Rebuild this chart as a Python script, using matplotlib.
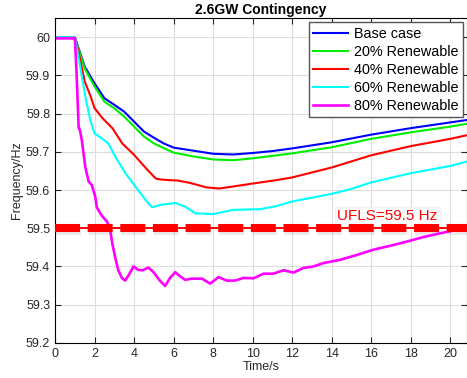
import numpy as np
import matplotlib.pyplot as plt
import matplotlib.patheffects as pe

plt.rcParams['font.family'] = ['Liberation Sans', 'DejaVu Sans']
plt.rcParams['lines.scale_dashes'] = False

# values
t_base = [0, 1, 1.5, 2, 2.5, 3, 3.5, 4, 4.5, 5, 5.5, 6, 7, 8, 9, 10, 11, 12, 13, 14, 16, 18, 20, 20.8]
f_base = [60, 60, 59.923, 59.879, 59.84, 59.823, 59.805, 59.779, 59.753, 59.737, 59.722, 59.711,
          59.703, 59.695, 59.693, 59.697, 59.702, 59.709, 59.717, 59.725, 59.745, 59.762, 59.777, 59.783]

t_r20 = [0, 1, 1.5, 2, 2.5, 3, 3.5, 4, 4.5, 5, 5.7, 6, 7, 8, 9, 10, 12, 14, 16, 18, 20, 20.8]
f_r20 = [60, 60, 59.918, 59.871, 59.831, 59.814, 59.792, 59.766, 59.74, 59.722, 59.705, 59.698,
         59.688, 59.68, 59.678, 59.683, 59.696, 59.712, 59.734, 59.751, 59.766, 59.773]

t_r40 = [0, 1, 1.2, 1.5, 1.8, 2, 2.4, 2.9, 3.4, 4, 4.6, 5.1, 5.3, 5.75, 6.2, 6.8, 7.66, 8.3, 9.1,
         10, 11.2, 12, 14, 15, 16, 18, 20, 20.8]
f_r40 = [60, 60, 59.958, 59.884, 59.845, 59.814, 59.788, 59.762, 59.722, 59.692, 59.657, 59.63,
         59.628, 59.626, 59.625, 59.619, 59.607, 59.604, 59.61, 59.617, 59.626, 59.633, 59.659,
         59.675, 59.691, 59.715, 59.734, 59.743]

t_r60 = [0, 1, 1.27, 1.53, 1.78, 2, 2.37, 2.7, 3.05, 3.56, 4.07, 4.58, 4.9, 5.4, 6.1, 6.6, 7.1,
         8, 9, 10.4, 11.2, 12, 14, 15, 16, 18, 20, 20.8]
f_r60 = [60, 60, 59.923, 59.845, 59.783, 59.748, 59.735, 59.722, 59.687, 59.644, 59.609, 59.574,
         59.555, 59.562, 59.566, 59.556, 59.539, 59.537, 59.548, 59.55, 59.558, 59.57, 59.59,
         59.603, 59.62, 59.644, 59.663, 59.674]

t_r80 = [0, 1, 1.08, 1.19, 1.27, 1.35, 1.53, 1.7, 1.86, 2.03, 2.11, 2.36, 2.62, 2.78, 2.9, 3.04,
         3.2, 3.38, 3.54, 3.71, 3.97, 4.2, 4.42, 4.73, 4.98, 5.3, 5.57, 5.82, 6.08, 6.33, 6.58,
         6.92, 7.43, 7.85, 8.27, 8.69, 9.11, 9.54, 10.04, 10.55, 11.05, 11.56, 12.07, 12.57,
         13.08, 13.59, 14.4, 15.27, 16.12, 16.96, 17.8, 18.65, 19.5, 20.17, 20.84]
f_r80 = [59.997, 59.997, 59.914, 59.766, 59.753, 59.731, 59.66, 59.622, 59.613, 59.583, 59.555,
         59.533, 59.518, 59.498, 59.459, 59.424, 59.39, 59.37, 59.363, 59.376, 59.4, 59.391,
         59.39, 59.397, 59.385, 59.363, 59.349, 59.37, 59.385, 59.374, 59.365, 59.368, 59.368,
         59.355, 59.372, 59.363, 59.363, 59.37, 59.369, 59.381, 59.381, 59.39, 59.384, 59.396,
         59.4, 59.409, 59.417, 59.43, 59.444, 59.454, 59.465, 59.477, 59.487, 59.494, 59.5]

labels = ['Base case', '20% Renewable', '40% Renewable', '60% Renewable', '80% Renewable']
colors = ['#0000ff', '#00ee00', '#ff0000', '#00ffff', '#ff00ff']
ufls = 59.5

fig = plt.figure(figsize=(4.67, 3.78), dpi=100)
ax = fig.add_axes([0.118, 0.093, 0.882, 0.859])

series = [(t_base, f_base), (t_r20, f_r20), (t_r40, f_r40), (t_r60, f_r60), (t_r80, f_r80)]
for (t, f), c, lab in zip(series, colors, labels):
    lw = 1.9 if lab == '80% Renewable' else 1.5
    ax.plot(t, f, color=c, linewidth=lw, label=lab)

# UFLS threshold: thin line + thick dashes with a soft shadow
ax.axhline(ufls, color='#ff0000', linewidth=1.4, zorder=5)
ax.axhline(ufls, color='#ff0000', linewidth=5.8, linestyle=(0, (18, 5.5)),
           solid_capstyle='butt', dash_capstyle='butt', zorder=5,
           path_effects=[pe.SimpleLineShadow(offset=(0.5, -1.8), shadow_color='#777777', alpha=0.15),
                         pe.Normal()])
ax.text(14.28, 59.531, 'UFLS=59.5 Hz', color='#ff0000', fontsize=11, va='center',
        bbox=dict(facecolor='white', edgecolor='#eeeeee', pad=1.5, alpha=0.8))

ax.set_xlim(0, 20.85)
ax.set_ylim(59.2, 60.05)
ax.set_xticks(np.arange(0, 21, 2))
ax.set_yticks([59.2, 59.3, 59.4, 59.5, 59.6, 59.7, 59.8, 59.9, 60])
ax.set_yticklabels(['59.2', '59.3', '59.4', '59.5', '59.6', '59.7', '59.8', '59.9', '60'])
ax.tick_params(direction='in', top=True, right=True, labelsize=9, colors='#262626',
               labelcolor='#262626', length=4)
ax.grid(True, color='#dddddd', linewidth=0.8)
ax.set_axisbelow(True)
ax.set_xlabel('Time/s', fontsize=9, color='#262626', labelpad=1)
ax.set_ylabel('Frequency/Hz', fontsize=9, color='#262626', labelpad=2)
ax.set_title('2.6GW Contingency', fontsize=10, fontweight='bold', pad=3)

leg = ax.legend(loc='upper right', fontsize=10.4, handlelength=2.4, borderaxespad=0.3,
                fancybox=False, framealpha=1, edgecolor='#555555',
                labelspacing=0.28, borderpad=0.3, handletextpad=0.4)
leg.get_frame().set_linewidth(1.0)

fig.savefig('out.png', dpi=100)
